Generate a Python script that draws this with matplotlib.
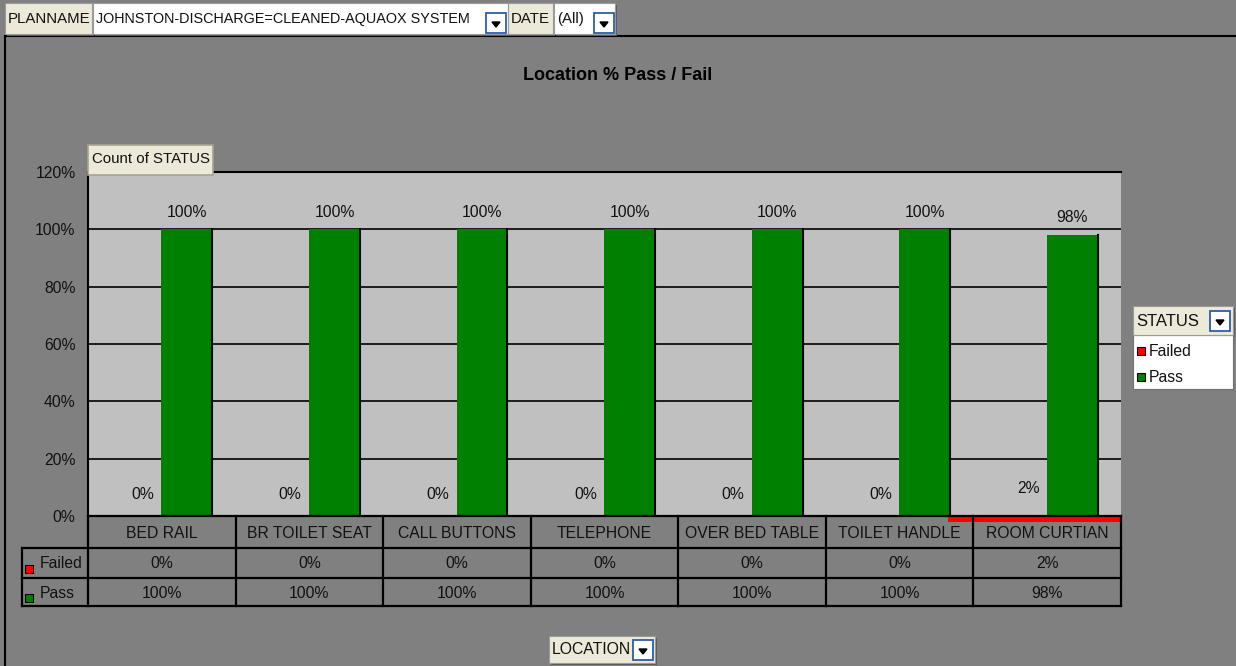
import matplotlib
matplotlib.use("Agg")
import matplotlib.pyplot as plt
from matplotlib.patches import Rectangle, Polygon
from matplotlib.transforms import blended_transform_factory

plt.rcParams['font.family'] = ['Liberation Sans', 'DejaVu Sans']

# ---------------- data ----------------
categories = ["BED RAIL", "BR TOILET SEAT", "CALL BUTTONS", "TELEPHONE",
              "OVER BED TABLE", "TOILET HANDLE", "ROOM CURTIAN"]
failed = [0.0, 0.0, 0.0, 0.0, 0.0, 0.0, 0.02]
passed = [1.0, 1.0, 1.0, 1.0, 1.0, 1.0, 0.98]
series_names = ["Failed", "Pass"]
yticks = [0.0, 0.2, 0.4, 0.6, 0.8, 1.0, 1.2]
title = "Location % Pass / Fail"
plan_name = "JOHNSTON-DISCHARGE=CLEANED-AQUAOX SYSTEM"
date_value = "(All)"

# ---------------- style ----------------
W, H = 1236, 666
BG = "#808080"
PLOT_BG = "#C0C0C0"
GREEN = "#008000"
RED = "#FF0000"
BEIGE = "#ECE9D8"
TXT = "#111111"
FS = 11.3

fig = plt.figure(figsize=(W / 100, H / 100), dpi=100, facecolor=BG)

# plot area in pixel coordinates
L, R, T, B = 88, 1121, 172, 516
ax = fig.add_axes([L / W, 1 - B / H, (R - L) / W, (B - T) / H])
ax.set_facecolor(PLOT_BG)
n = len(categories)
x = list(range(n))
ax.set_xlim(-0.5, n - 0.5)
ax.set_ylim(0, 1.2)
ax.set_yticks(yticks)
ax.set_yticklabels([f"{int(round(v * 100))}%" for v in yticks], fontsize=FS, color=TXT)
ax.tick_params(axis="y", length=0, pad=9)
ax.set_xticks([])
for s in ["right", "bottom"]:
    ax.spines[s].set_visible(False)
ax.spines["left"].set_color("black")
ax.spines["left"].set_linewidth(1.5)
ax.spines["top"].set_color("black")
ax.spines["top"].set_linewidth(1.5)
ax.yaxis.grid(True, color="black", linewidth=1.2)
ax.set_axisbelow(True)

off = 0.17
bw = 0.345
gx = [i + off for i in x]
fx_ = [i - off for i in x]
ax.bar(gx, passed, width=bw, color=GREEN, zorder=3)
# dark right edge of green bars
for xi, v in zip(gx, passed):
    ax.plot([xi + bw / 2, xi + bw / 2], [0, v], color="black", lw=1.5, zorder=3.5)

# failed series (renders as a thin strip below the axis, as in the source)
for i, v in enumerate(failed):
    if v > 0:
        ax.add_patch(Rectangle((i - 0.67, -v), 1.17, v, facecolor=RED,
                               edgecolor="none", zorder=4, clip_on=False))

for xi, v in zip(gx, passed):
    ax.annotate(f"{int(round(v * 100))}%", (xi, v), xytext=(0, 7),
                textcoords="offset points", ha="center", va="bottom",
                fontsize=FS, color=TXT)
for xi, v in zip(fx_, failed):
    ax.annotate(f"{int(round(v * 100))}%", (xi + 0.04, v), xytext=(0, 10),
                textcoords="offset points", ha="center", va="bottom",
                fontsize=FS, color=TXT)

# ---------------- overlay (pixel coordinates) ----------------
ov = fig.add_axes([0, 0, 1, 1])
ov.set_xlim(0, W)
ov.set_ylim(H, 0)
ov.axis("off")
ov.patch.set_alpha(0)

# outer frame lines
ov.plot([5, 5], [36, H], color="black", lw=1.5)
ov.plot([5, W], [36, 36], color="black", lw=1.5)

ov.text(618, 75, title, ha="center", va="center", fontsize=13,
        fontweight="bold", color="black")


def dropdown_icon(x0, y0):
    ov.add_patch(Rectangle((x0, y0), 20, 20, facecolor="white",
                           edgecolor="#2b5ea8", lw=1.3, zorder=8))
    ov.add_patch(Polygon([(x0 + 6, y0 + 9), (x0 + 14, y0 + 9), (x0 + 10, y0 + 14)],
                         closed=True, facecolor="black", edgecolor="black",
                         zorder=9))


def button(x0, y0, w, h, label, fs=10.8, fc=BEIGE):
    ov.add_patch(Rectangle((x0 + 2, y0 + 2), w, h, facecolor="#5a5a5a",
                           edgecolor="none", zorder=5))
    ov.add_patch(Rectangle((x0, y0), w, h, facecolor=fc, edgecolor="#9a9a9a",
                           lw=0.8, zorder=6))
    ov.text(x0 + 3, y0 + h / 2 + 0.5, label, ha="left", va="center",
            fontsize=fs, color=TXT, zorder=7)


# top filter bar
button(5, 3, 87, 31, "PLANNAME")
button(93, 3, 415, 31, plan_name, fs=10.4, fc="white")
dropdown_icon(486, 13)
button(508, 3, 45, 31, "DATE")
button(554, 3, 61, 31, date_value, fc="white")
dropdown_icon(594, 13)

# "Count of STATUS" field button
ov.add_patch(Rectangle((88, 145), 125, 30, facecolor=BEIGE, edgecolor="#a8a492",
                       lw=1.2, zorder=6))
ov.text(92, 159, "Count of STATUS", ha="left", va="center", fontsize=10.8,
        color=TXT, zorder=7)

# legend
ov.add_patch(Rectangle((1133, 335), 100, 54, facecolor="white",
                       edgecolor="#707070", lw=0.8, zorder=6))
button(1133, 306, 100, 29, "STATUS", fs=12)
dropdown_icon(1210, 311)
for (name, col, yy) in [(series_names[0], RED, 351), (series_names[1], GREEN, 377)]:
    ov.add_patch(Rectangle((1137, yy - 4), 8, 8, facecolor=col, edgecolor="black",
                           lw=0.8, zorder=7))
    ov.text(1149, yy, name, ha="left", va="center", fontsize=FS, color=TXT, zorder=7)

# LOCATION button
button(549, 636, 106, 27, "LOCATION", fs=FS)
dropdown_icon(633, 640)

# ---------------- data table ----------------
bt = blended_transform_factory(ax.transData, ov.transData)
rows_y = [516, 548, 578, 606]
tl = dict(color="black", lw=1.6, clip_on=False, zorder=6)
edges = [i - 0.5 for i in range(n + 1)]
for e in edges:
    ax.plot([e, e], [rows_y[0], rows_y[-1]], transform=bt, **tl)
for yy in rows_y:
    ax.plot([-0.5, n - 0.5], [yy, yy], transform=bt, **tl)
ov.plot([22, L], [548, 548], color="black", lw=1.6)
ov.plot([22, L], [578, 578], color="black", lw=1.6)
ov.plot([22, L], [606, 606], color="black", lw=1.6)
ov.plot([22, 22], [548, 606], color="black", lw=1.6)

for i, c in enumerate(categories):
    ax.text(i, 533, c, transform=bt, ha="center", va="center", fontsize=FS,
            color=TXT, clip_on=False)
    ax.text(i, 564, f"{int(round(failed[i] * 100))}%", transform=bt,
            ha="center", va="center", fontsize=FS, color=TXT, clip_on=False)
    ax.text(i, 593, f"{int(round(passed[i] * 100))}%", transform=bt,
            ha="center", va="center", fontsize=FS, color=TXT, clip_on=False)

for (name, col, yy) in [(series_names[0], RED, 564), (series_names[1], GREEN, 593)]:
    ov.add_patch(Rectangle((25, yy + 1), 8, 8, facecolor=col, edgecolor="black",
                           lw=0.8, zorder=7))
    ov.text(40, yy, name, ha="left", va="center", fontsize=FS, color=TXT)

fig.savefig("out.png", dpi=100, facecolor=BG)
